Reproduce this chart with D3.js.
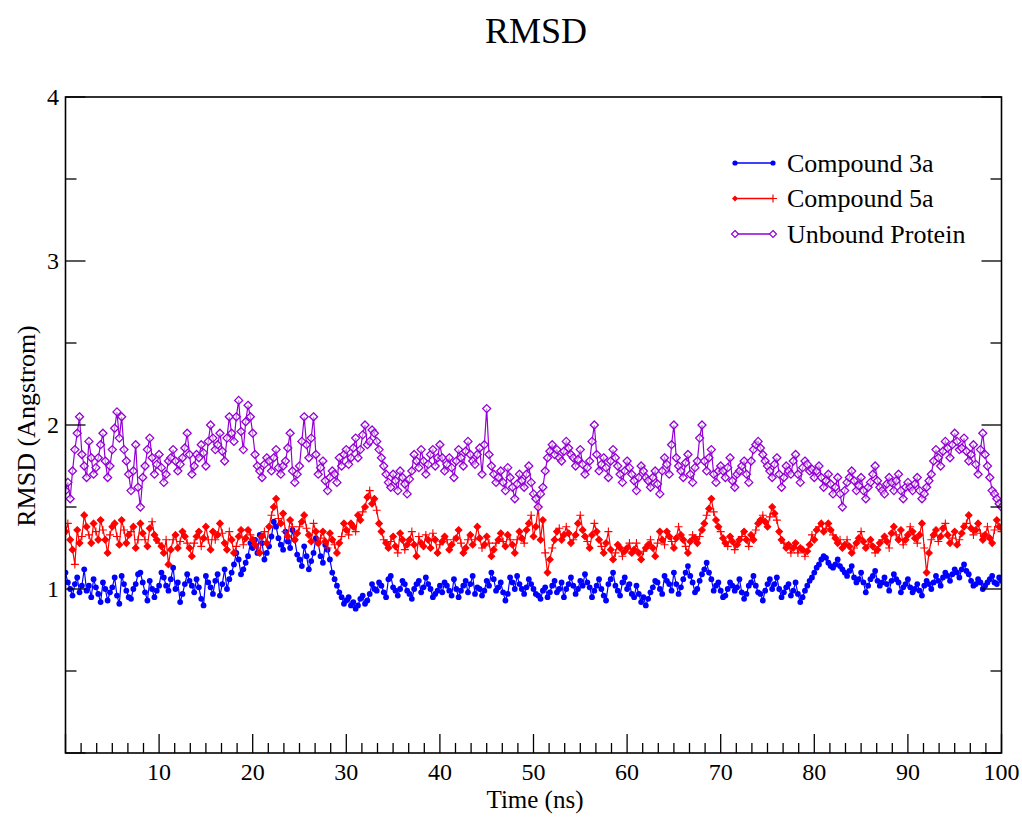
<!DOCTYPE html>
<html>
<head>
<meta charset="utf-8">
<script src="https://cdn.jsdelivr.net/npm/d3@7"></script>
<style>
  html, body { margin: 0; padding: 0; background: #fff; }
  svg { display: block; }
  text { font-family: "Liberation Serif", "Times New Roman", serif; fill: #000; }
</style>
</head>
<body>
<svg id="chart" width="1022" height="818"></svg>
<script>
// ---- data: RMSD samples, evenly spaced over 0..100 ns ----
const timeStart = 0, timeEnd = 100;
const compound3a = [
  1.10,1.04,1.00,0.96,1.03,1.07,0.98,1.02,1.12,0.99,1.02,0.95,1.06,1.01,0.97,0.92,1.04,1.00,0.93,0.98,1.01,1.07,0.96,0.91,1.08,1.03,0.99,0.95,0.94,1.00,1.03,1.09,1.10,1.04,0.98,0.93,1.05,1.00,0.95,0.99,1.02,
  1.10,1.07,1.02,0.99,1.06,1.13,1.00,1.04,0.92,0.97,1.03,1.09,1.05,1.02,0.98,1.06,1.01,0.94,0.90,1.08,1.04,1.01,0.97,1.05,1.09,0.96,1.03,1.12,1.00,1.06,1.10,1.15,1.22,1.18,1.09,1.12,1.16,1.20,1.28,1.25,
  1.30,1.22,1.33,1.28,1.18,1.22,1.26,1.32,1.41,1.38,1.31,1.27,1.24,1.35,1.29,1.25,1.36,1.30,1.21,1.18,1.14,1.26,1.20,1.12,1.17,1.22,1.31,1.28,1.20,1.16,1.27,1.24,1.18,1.10,1.06,1.02,0.98,0.95,0.91,0.93,
  0.95,0.90,0.92,0.88,0.90,0.94,0.96,0.91,0.93,0.97,1.03,1.00,0.99,1.04,1.02,0.98,0.95,1.06,1.08,1.01,0.99,0.96,1.00,1.05,1.03,0.99,0.97,0.94,1.00,1.03,1.05,0.98,1.01,1.07,1.03,1.00,0.95,0.97,0.99,1.02,
  0.98,1.04,1.02,0.99,0.96,1.06,1.00,0.95,0.99,1.02,1.05,0.98,1.03,1.08,0.97,1.01,1.00,0.96,0.99,1.05,1.02,1.10,1.06,0.99,1.01,1.04,0.98,0.93,0.97,1.07,1.04,1.00,1.08,1.03,1.00,0.97,1.01,1.06,1.03,1.00,
  0.97,0.96,0.94,0.99,1.01,0.95,0.98,1.02,1.05,0.98,1.00,1.04,0.95,1.00,1.03,1.07,1.02,0.97,1.00,1.05,1.02,1.09,1.04,1.01,0.95,0.99,1.02,1.06,1.00,0.96,0.93,1.03,1.06,1.10,1.02,0.99,0.96,1.04,1.07,1.00,
  1.03,0.97,0.95,1.02,0.97,0.92,0.95,0.90,0.94,0.98,1.01,1.05,1.04,1.00,0.97,1.08,1.05,1.03,0.99,1.10,1.03,0.97,1.01,1.06,1.10,1.14,1.08,1.04,0.98,1.00,1.05,1.09,1.12,1.16,1.10,1.06,0.99,1.02,1.04,0.99,
  0.95,0.96,1.00,1.04,1.02,0.99,1.01,1.06,0.98,0.94,0.97,1.02,1.04,1.08,1.02,0.98,0.97,0.93,0.99,1.03,1.06,1.00,1.03,1.07,1.00,0.95,0.98,1.01,1.03,0.96,0.99,1.04,0.97,0.92,0.95,0.99,1.02,1.05,1.07,1.10,
  1.13,1.15,1.18,1.20,1.19,1.16,1.14,1.13,1.15,1.18,1.14,1.12,1.10,1.08,1.11,1.14,1.07,1.04,1.06,1.10,1.04,0.98,1.02,1.06,1.08,1.11,1.05,1.02,1.04,1.07,1.03,0.99,1.05,1.09,1.06,1.04,0.98,1.01,1.03,1.06,
  1.01,0.98,1.00,1.03,0.99,0.96,1.02,1.05,1.03,1.00,1.04,1.08,1.05,1.02,1.07,1.10,1.08,1.05,1.09,1.12,1.10,1.07,1.12,1.15,1.11,1.09,1.05,1.02,1.03,1.06,1.04,1.00,1.02,1.04,1.06,1.08,1.04,1.03,1.07,1.05
];
const compound5a = [
  1.35,1.40,1.30,1.24,1.15,1.36,1.28,1.32,1.45,1.38,1.33,1.28,1.40,1.35,1.30,1.42,1.36,1.30,1.22,1.33,1.38,1.40,1.32,1.27,1.42,1.36,1.28,1.33,1.35,1.38,1.25,1.30,1.40,1.34,1.30,1.26,1.37,1.41,1.33,1.30,1.28,
  1.26,1.22,1.30,1.15,1.24,1.30,1.33,1.25,1.29,1.35,1.32,1.28,1.25,1.20,1.28,1.32,1.35,1.26,1.31,1.38,1.30,1.24,1.35,1.30,1.33,1.40,1.34,1.28,1.24,1.35,1.30,1.22,1.26,1.32,1.36,1.27,1.31,1.36,1.33,1.30,
  1.27,1.25,1.22,1.32,1.35,1.28,1.38,1.45,1.50,1.55,1.43,1.40,1.46,1.35,1.32,1.42,1.38,1.30,1.34,1.38,1.41,1.45,1.37,1.33,1.29,1.40,1.35,1.28,1.31,1.35,1.29,1.25,1.34,1.30,1.27,1.22,1.28,1.32,1.40,1.36,
  1.33,1.40,1.38,1.35,1.45,1.42,1.47,1.50,1.56,1.60,1.52,1.55,1.48,1.40,1.35,1.30,1.28,1.25,1.29,1.32,1.26,1.22,1.34,1.30,1.24,1.27,1.30,1.35,1.27,1.20,1.32,1.28,1.26,1.33,1.30,1.25,1.34,1.30,1.22,1.27,
  1.29,1.32,1.30,1.24,1.27,1.30,1.31,1.36,1.28,1.22,1.25,1.30,1.33,1.27,1.30,1.38,1.31,1.25,1.27,1.32,1.28,1.20,1.24,1.28,1.30,1.34,1.29,1.26,1.33,1.30,1.27,1.22,1.30,1.35,1.31,1.28,1.36,1.40,1.45,1.32,
  1.38,1.50,1.30,1.42,1.22,1.10,1.18,1.25,1.30,1.35,1.37,1.30,1.33,1.38,1.34,1.28,1.30,1.33,1.40,1.45,1.36,1.32,1.29,1.25,1.33,1.40,1.35,1.30,1.26,1.22,1.28,1.35,1.24,1.18,1.22,1.27,1.25,1.20,1.23,1.25,
  1.28,1.22,1.24,1.28,1.22,1.18,1.23,1.25,1.27,1.30,1.25,1.20,1.28,1.35,1.30,1.27,1.35,1.32,1.29,1.25,1.31,1.38,1.33,1.30,1.26,1.22,1.29,1.33,1.31,1.28,1.32,1.36,1.40,1.45,1.49,1.55,1.47,1.42,1.38,1.35,
  1.31,1.28,1.26,1.32,1.29,1.24,1.27,1.30,1.32,1.35,1.30,1.26,1.33,1.30,1.36,1.40,1.42,1.45,1.41,1.38,1.44,1.50,1.46,1.42,1.35,1.30,1.28,1.25,1.27,1.22,1.25,1.28,1.22,1.25,1.24,1.20,1.23,1.27,1.33,1.30,
  1.36,1.38,1.40,1.35,1.37,1.40,1.36,1.33,1.31,1.28,1.30,1.25,1.27,1.30,1.26,1.22,1.25,1.28,1.31,1.35,1.29,1.25,1.27,1.30,1.26,1.22,1.24,1.28,1.30,1.32,1.29,1.25,1.34,1.38,1.33,1.30,1.36,1.27,1.30,1.33,
  1.38,1.35,1.31,1.28,1.33,1.40,1.25,1.10,1.22,1.30,1.33,1.36,1.29,1.32,1.37,1.40,1.33,1.28,1.31,1.35,1.27,1.30,1.34,1.38,1.40,1.45,1.37,1.33,1.36,1.40,1.34,1.30,1.33,1.38,1.31,1.28,1.36,1.42,1.38,1.35
];
const unboundProtein = [
  1.60,1.65,1.55,1.72,1.85,1.95,2.05,1.82,1.75,1.68,1.90,1.80,1.70,1.74,1.80,1.88,1.95,1.78,1.68,1.75,1.85,1.98,2.08,1.92,2.05,1.85,1.78,1.70,1.60,1.72,1.88,1.62,1.50,1.68,1.75,1.85,1.92,1.80,1.70,1.76,1.82,
  1.74,1.65,1.70,1.78,1.80,1.85,1.78,1.72,1.76,1.80,1.86,1.95,1.82,1.70,1.75,1.82,1.80,1.88,1.83,1.75,1.90,2.00,1.92,1.85,1.88,1.95,1.84,1.78,1.92,2.05,1.95,1.90,2.05,2.15,1.96,1.85,2.02,2.12,2.05,1.95,
  1.82,1.75,1.72,1.68,1.76,1.80,1.78,1.72,1.80,1.85,1.74,1.70,1.75,1.78,1.86,1.95,1.72,1.65,1.70,1.75,1.90,2.05,1.88,1.80,1.92,2.05,1.82,1.70,1.74,1.78,1.66,1.60,1.68,1.72,1.70,1.65,1.80,1.75,1.82,1.85,
  1.76,1.80,1.86,1.92,1.80,1.85,1.94,2.00,1.88,1.90,1.97,1.95,1.90,1.85,1.80,1.75,1.70,1.65,1.62,1.70,1.66,1.60,1.72,1.68,1.64,1.58,1.67,1.72,1.82,1.78,1.74,1.85,1.78,1.70,1.76,1.82,1.85,1.75,1.80,1.88,
  1.80,1.72,1.76,1.80,1.74,1.68,1.78,1.85,1.80,1.75,1.84,1.90,1.82,1.78,1.76,1.82,1.86,1.70,1.88,2.10,1.82,1.75,1.70,1.65,1.68,1.72,1.65,1.60,1.74,1.68,1.62,1.55,1.64,1.70,1.66,1.62,1.70,1.75,1.65,1.58,
  1.55,1.50,1.58,1.62,1.72,1.80,1.84,1.88,1.82,1.85,1.80,1.78,1.84,1.90,1.86,1.82,1.80,1.75,1.79,1.85,1.76,1.70,1.74,1.78,1.90,2.00,1.82,1.72,1.76,1.80,1.74,1.68,1.78,1.85,1.80,1.75,1.70,1.65,1.72,1.78,
  1.74,1.70,1.66,1.60,1.68,1.75,1.72,1.68,1.66,1.62,1.68,1.72,1.64,1.58,1.72,1.80,1.76,1.70,1.88,2.00,1.80,1.75,1.72,1.68,1.77,1.82,1.70,1.65,1.74,1.78,1.92,2.00,1.78,1.72,1.80,1.85,1.70,1.65,1.72,1.75,
  1.72,1.68,1.74,1.80,1.66,1.62,1.70,1.72,1.75,1.78,1.70,1.65,1.78,1.85,1.88,1.90,1.86,1.82,1.78,1.75,1.72,1.68,1.76,1.80,1.70,1.62,1.68,1.75,1.72,1.70,1.78,1.82,1.70,1.65,1.74,1.78,1.76,1.72,1.73,1.68,
  1.72,1.75,1.68,1.62,1.66,1.70,1.64,1.58,1.62,1.68,1.58,1.50,1.60,1.65,1.68,1.72,1.66,1.60,1.63,1.68,1.60,1.55,1.62,1.65,1.70,1.75,1.66,1.62,1.60,1.58,1.64,1.68,1.65,1.60,1.66,1.70,1.60,1.55,1.62,1.65,
  1.62,1.60,1.64,1.68,1.60,1.55,1.58,1.62,1.66,1.70,1.78,1.85,1.80,1.75,1.84,1.90,1.86,1.80,1.88,1.95,1.90,1.85,1.86,1.92,1.84,1.78,1.82,1.88,1.76,1.70,1.85,1.95,1.82,1.75,1.68,1.60,1.58,1.55,1.52,1.50
];
const seriesNames = ["Compound 3a", "Compound 5a", "Unbound Protein"];
const xTickValues = [10, 20, 30, 40, 50, 60, 70, 80, 90, 100];
const yTickValues = [1, 2, 3, 4];
const titleText = "RMSD";
const xLabel = "Time (ns)";
const yLabel = "RMSD (Angstrom)";

// ---- layout ----
const svg = d3.select("#chart");
const pLeft = 65.5, pRight = 1001.5, pTop = 97, pBottom = 753;
const x = d3.scaleLinear().domain([0, 100]).range([pLeft, pRight]);
const y = d3.scaleLinear().domain([0, 4]).range([pBottom, pTop]);

const colors = ["#0000ff", "#ff0000", "#9400d3"];
const allSeries = [compound3a, compound5a, unboundProtein].map((vals, k) => {
  const step = (timeEnd - timeStart) / (vals.length - 1);
  return {
    name: seriesNames[k],
    color: colors[k],
    points: vals.map((v, i) => ({ t: timeStart + i * step, v }))
  };
});

// title
svg.append("text").attr("x", 536).attr("y", 43).attr("text-anchor", "middle")
  .style("font-size", "36px").text(titleText);

// clip
svg.append("clipPath").attr("id", "clip").append("rect")
  .attr("x", pLeft).attr("y", pTop).attr("width", pRight - pLeft).attr("height", pBottom - pTop);
const plot = svg.append("g").attr("clip-path", "url(#clip)");

const line = d3.line().x(d => x(d.t)).y(d => y(d.v));

function diamond(cx, cy, r) {
  return `M${cx},${cy - r}L${cx + r},${cy}L${cx},${cy + r}L${cx - r},${cy}Z`;
}
function plus(cx, cy, r) {
  return `M${cx - r},${cy}L${cx + r},${cy}M${cx},${cy - r}L${cx},${cy + r}`;
}

allSeries.forEach((s, k) => {
  const g = plot.append("g");
  g.append("path").datum(s.points).attr("d", line)
    .attr("fill", "none").attr("stroke", s.color).attr("stroke-width", 1.2);
  if (k === 0) {
    g.selectAll("circle").data(s.points).join("circle")
      .attr("cx", d => x(d.t)).attr("cy", d => y(d.v)).attr("r", 2.9)
      .attr("fill", s.color);
  } else if (k === 1) {
    g.selectAll("path.m").data(s.points).join("path").attr("class", "m")
      .attr("d", (d, i) => i % 3 === 1 ? plus(x(d.t), y(d.v), 4) : diamond(x(d.t), y(d.v), 3.3))
      .attr("fill", (d, i) => i % 3 === 1 ? "none" : s.color)
      .attr("stroke", s.color).attr("stroke-width", 1.1);
  } else {
    g.selectAll("path.m").data(s.points).join("path").attr("class", "m")
      .attr("d", d => diamond(x(d.t), y(d.v), 4))
      .attr("fill", "#fff").attr("fill-opacity", 0.5)
      .attr("stroke", s.color).attr("stroke-width", 1.3);
  }
});

// frame
svg.append("rect").attr("x", pLeft).attr("y", pTop).attr("width", pRight - pLeft).attr("height", pBottom - pTop)
  .attr("fill", "none").attr("stroke", "#000").attr("stroke-width", 1.6);

// x ticks (inward, bottom only): major every 10, 5 minor between
const axes = svg.append("g").attr("stroke", "#000").attr("stroke-width", 1.3);
d3.range(0, 101, 10).forEach(v => {
  axes.append("line").attr("x1", x(v)).attr("x2", x(v)).attr("y1", pBottom).attr("y2", pBottom - 19);
  if (v < 100) {
    for (let m = 1; m <= 5; m++) {
      const mv = v + m * 10 / 6;
      axes.append("line").attr("x1", x(mv)).attr("x2", x(mv)).attr("y1", pBottom).attr("y2", pBottom - 10);
    }
  }
});
// y ticks (inward, left and right)
d3.range(0, 4.01, 1).forEach(v => {
  [[pLeft, 1], [pRight, -1]].forEach(([ax, dir]) => {
    axes.append("line").attr("x1", ax).attr("x2", ax + dir * 20).attr("y1", y(v)).attr("y2", y(v));
  });
});
d3.range(0.5, 4, 1).forEach(v => {
  [[pLeft, 1], [pRight, -1]].forEach(([ax, dir]) => {
    axes.append("line").attr("x1", ax).attr("x2", ax + dir * 11).attr("y1", y(v)).attr("y2", y(v));
  });
});

// tick labels
svg.append("g").selectAll("text").data(xTickValues).join("text")
  .attr("x", d => x(d)).attr("y", 780).attr("text-anchor", "middle")
  .style("font-size", "24px").text(d => d);
svg.append("g").selectAll("text").data(yTickValues).join("text")
  .attr("x", 59).attr("y", d => y(d) + 8).attr("text-anchor", "end")
  .style("font-size", "24px").text(d => d);

// axis labels
svg.append("text").attr("x", 535).attr("y", 808).attr("text-anchor", "middle")
  .style("font-size", "25px").text(xLabel);
svg.append("text").attr("transform", "translate(35,426) rotate(-90)").attr("text-anchor", "middle")
  .style("font-size", "26px").text(yLabel);

// legend
const legend = svg.append("g");
allSeries.forEach((s, k) => {
  const ly = 163 + k * 35.5;
  legend.append("line").attr("x1", 735).attr("x2", 773).attr("y1", ly).attr("y2", ly)
    .attr("stroke", s.color).attr("stroke-width", 1.3);
  [735, 773].forEach((lx, j) => {
    if (k === 0) {
      legend.append("circle").attr("cx", lx).attr("cy", ly).attr("r", 2.6).attr("fill", s.color);
    } else if (k === 1) {
      if (j === 0) legend.append("path").attr("d", diamond(lx, ly, 3)).attr("fill", s.color);
      else legend.append("path").attr("d", plus(lx, ly, 4)).attr("stroke", s.color).attr("stroke-width", 1.2).attr("fill", "none");
    } else {
      legend.append("path").attr("d", diamond(lx, ly, 3.5)).attr("fill", "#fff")
        .attr("stroke", s.color).attr("stroke-width", 1.2);
    }
  });
  legend.append("text").attr("x", 787).attr("y", ly + 8.5).style("font-size", "26px").text(s.name);
});
</script>
</body>
</html>
